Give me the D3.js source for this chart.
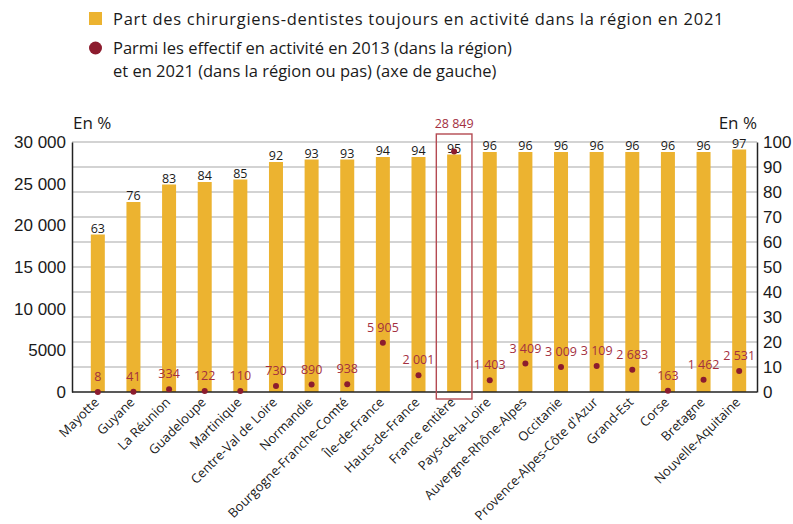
<!DOCTYPE html>
<html lang="fr">
<head>
<meta charset="UTF-8" />
<title>Chirurgiens-dentistes</title>
<script src="https://d3js.org/d3.v7.min.js"></script>
<style>
  body { margin: 0; background: #fff; }
  svg { font-family: "Open Sans", sans-serif; }
</style>
</head>
<body>
<svg width="793" height="524"></svg>
<script>
// Data
const regions = ["Mayotte", "Guyane", "La Réunion", "Guadeloupe", "Martinique", "Centre-Val de Loire",
  "Normandie", "Bourgogne-Franche-Comté", "Île-de-France", "Hauts-de-France", "France entière",
  "Pays-de-la-Loire", "Auvergne-Rhône-Alpes", "Occitanie", "Provence-Alpes-Côte d'Azur", "Grand-Est",
  "Corse", "Bretagne", "Nouvelle-Aquitaine"];
const partActivite = [63, 76, 83, 84, 85, 92, 93, 93, 94, 94, 95, 96, 96, 96, 96, 96, 96, 96, 97];
const effectifs = [8, 41, 334, 122, 110, 730, 890, 938, 5905, 2001, 28849, 1403, 3409, 3009, 3109, 2683, 163, 1462, 2531];
const leftTicks = [0, 5000, 10000, 15000, 20000, 25000, 30000];
const rightTicks = [0, 10, 20, 30, 40, 50, 60, 70, 80, 90, 100];
const highlight = "France entière";

const BAR_COLOR = "#ecb330";
const DOT_COLOR = "#8c1c2e";
const RED_TEXT = "#a3303f";

// Layout
const X0 = 72, X1 = 757, Y0 = 392, Y1 = 142;
const BOX_TOP = 134, BOX_BOTTOM = 399;

const svg = d3.select("svg");

const x = d3.scaleBand().domain(regions).range([80, X1]).paddingInner(0.6).paddingOuter(0.3);
const yPct = d3.scaleLinear().domain([0, 100]).range([Y0, Y1]);
const yEff = d3.scaleLinear().domain([0, 30000]).range([Y0, Y1]);

// french style: 4-digit ticks without separator, labels with a space
const fmtTick = v => v < 10000 ? String(v) : d3.format(",")(v).replace(/,/g, " ");
const fmtLbl = v => d3.format(",")(v).replace(/,/g, " ");

// Gridlines
svg.append("g").selectAll("line").data(rightTicks.slice(1)).join("line")
  .attr("x1", X0).attr("x2", X1)
  .attr("y1", d => yPct(d)).attr("y2", d => yPct(d))
  .attr("stroke", "#c4c4c4").attr("stroke-width", 1.3);

// Left axis
const gl = svg.append("g").attr("transform", `translate(${X0},0)`)
  .call(d3.axisLeft(yEff).tickValues(leftTicks).tickSize(0).tickPadding(6).tickFormat(fmtTick));
gl.select(".domain").attr("stroke", "#222").attr("stroke-width", 1.5);
gl.selectAll("text").attr("font-size", 17).attr("fill", "#1a1a1a");

// Right axis
const gr = svg.append("g").attr("transform", `translate(${X1},0)`)
  .call(d3.axisRight(yPct).tickValues(rightTicks).tickSize(0).tickPadding(6));
gr.select(".domain").attr("stroke", "#222").attr("stroke-width", 1.5);
gr.selectAll("text").attr("font-size", 17).attr("fill", "#1a1a1a");

svg.append("text").attr("x", X0 + 1).attr("y", 129).attr("font-size", 17).attr("fill", "#1a1a1a").text("En %");
svg.append("text").attr("x", X1).attr("y", 129).attr("text-anchor", "end").attr("font-size", 17).attr("fill", "#1a1a1a").text("En %");

// Bars
const bw = 14;
const cx = d => x(d) + x.bandwidth() / 2;
svg.append("g").selectAll("rect").data(regions).join("rect")
  .attr("x", d => cx(d) - bw / 2)
  .attr("width", bw)
  .attr("y", (d, i) => yPct(partActivite[i]))
  .attr("height", (d, i) => Y0 - yPct(partActivite[i]))
  .attr("fill", BAR_COLOR);

// Bar labels
svg.append("g").selectAll("text").data(regions).join("text")
  .attr("x", d => cx(d))
  .attr("y", (d, i) => yPct(partActivite[i]) - 2)
  .attr("text-anchor", "middle").attr("font-size", 12.5).attr("fill", "#1a1a1a")
  .text((d, i) => partActivite[i]);

// Bottom axis line
svg.append("line").attr("x1", X0).attr("x2", X1).attr("y1", Y0).attr("y2", Y0)
  .attr("stroke", "#222").attr("stroke-width", 1.5);

// Highlight box
svg.append("rect")
  .attr("x", cx(highlight) - x.step() / 2)
  .attr("width", x.step())
  .attr("y", BOX_TOP).attr("height", BOX_BOTTOM - BOX_TOP)
  .attr("fill", "none").attr("stroke", "#b44a52").attr("stroke-width", 1.4);

// Dots
svg.append("g").selectAll("circle").data(regions).join("circle")
  .attr("cx", d => cx(d))
  .attr("cy", (d, i) => yEff(effectifs[i]))
  .attr("r", 3)
  .attr("fill", DOT_COLOR);

svg.append("g").selectAll("text").data(regions).join("text")
  .attr("x", d => cx(d))
  .attr("y", (d, i) => d === highlight ? BOX_TOP - 6 : yEff(effectifs[i]) - 11)
  .attr("text-anchor", "middle").attr("font-size", 12.5).attr("fill", RED_TEXT)
  .text((d, i) => fmtLbl(effectifs[i]));

// X labels
svg.append("g").selectAll("text").data(regions).join("text")
  .attr("transform", d => `translate(${cx(d) + 2},${Y0 + 11}) rotate(-45)`)
  .attr("text-anchor", "end").attr("font-size", 13).attr("fill", "#1a1a1a")
  .text(d => d);

// Legend
const lg = svg.append("g");
lg.append("rect").attr("x", 89).attr("y", 12).attr("width", 13).attr("height", 13).attr("fill", BAR_COLOR);
lg.append("text").attr("x", 113).attr("y", 25).attr("font-size", 16.5).attr("fill", "#1a1a1a")
  .attr("letter-spacing", 0.7)
  .text("Part des chirurgiens-dentistes toujours en activité dans la région en 2021");
lg.append("circle").attr("cx", 95.5).attr("cy", 48).attr("r", 6.5).attr("fill", DOT_COLOR);
lg.append("text").attr("x", 113).attr("y", 54).attr("font-size", 16.5).attr("fill", "#1a1a1a")
  .text("Parmi les effectif en activité en 2013 (dans la région)");
lg.append("text").attr("x", 113).attr("y", 77).attr("font-size", 16.5).attr("fill", "#1a1a1a")
  .text("et en 2021 (dans la région ou pas) (axe de gauche)");
</script>
</body>
</html>
